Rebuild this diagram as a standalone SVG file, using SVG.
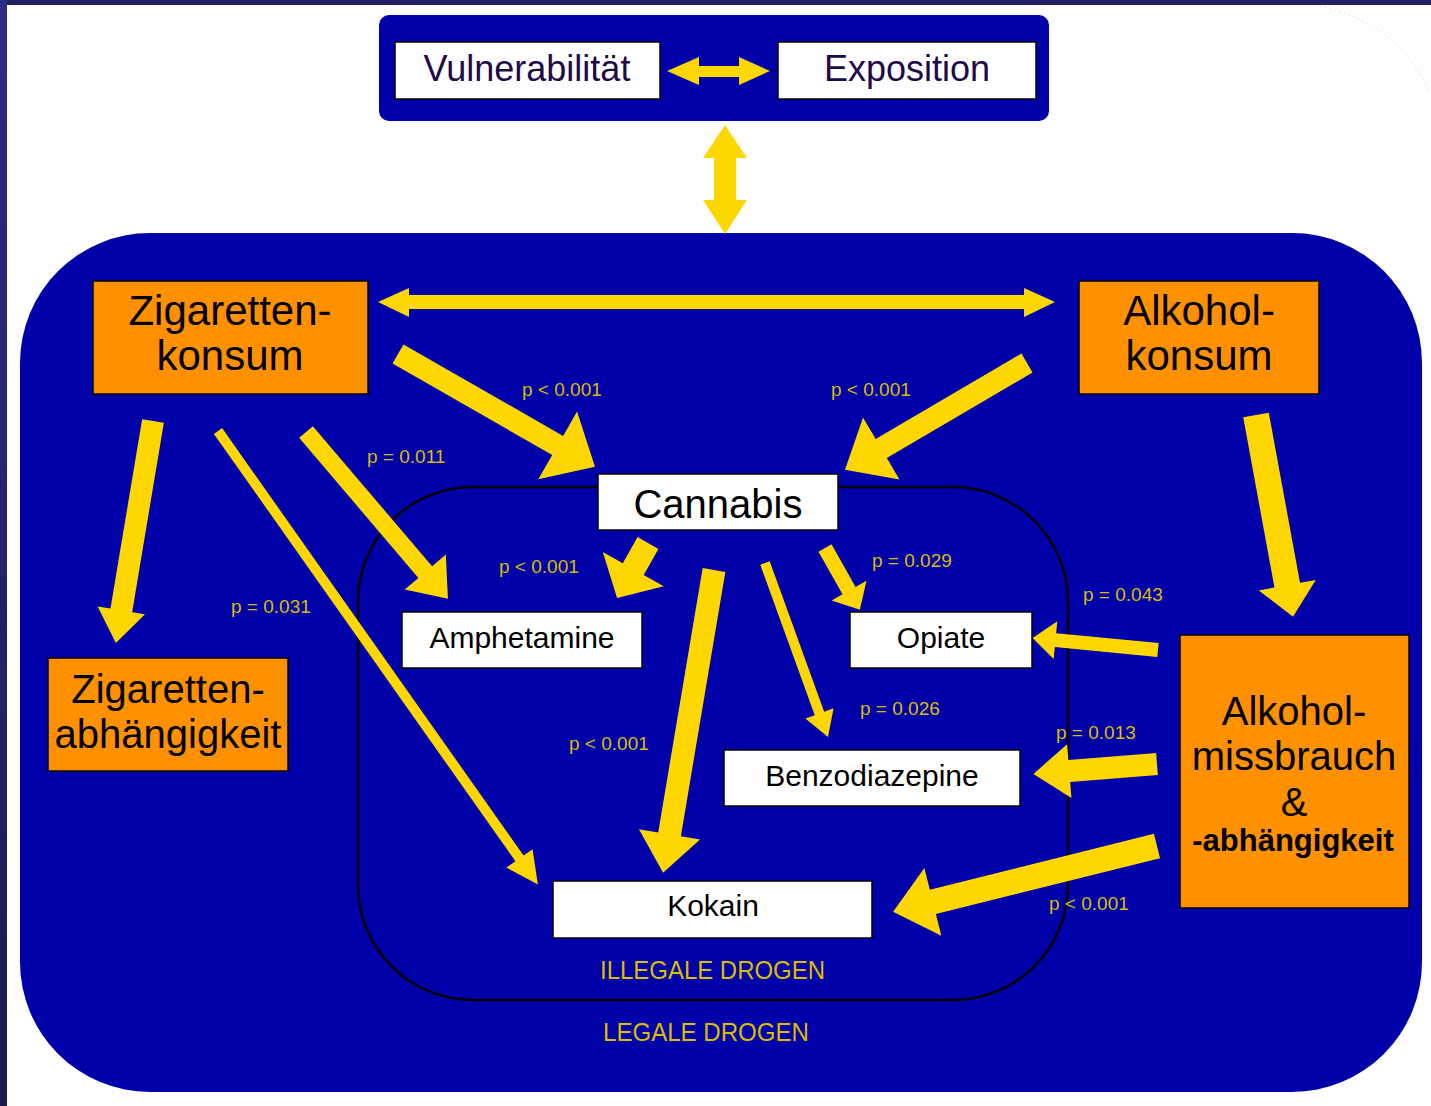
<svg xmlns="http://www.w3.org/2000/svg" width="1431" height="1106" viewBox="0 0 1431 1106">
<defs>
<linearGradient id="lg" x1="0" y1="0" x2="0" y2="1">
<stop offset="0" stop-color="#2c2c88"/>
<stop offset="1" stop-color="#1b1b4e"/>
</linearGradient>
<style>
.blue{fill:#0000A8}
.org{fill:#FF9000;stroke:#000;stroke-width:1.5}
.wht{fill:#fff;stroke:#000;stroke-width:1.5}
.ar{fill:#FFD700}
.t{font-family:"Liberation Sans",Arial,sans-serif;fill:#000;text-anchor:middle}
.p{font-family:"Liberation Sans",Arial,sans-serif;fill:#DCBC00;font-size:19px}
.cap{font-family:"Liberation Sans",Arial,sans-serif;fill:#DCBC00;font-size:25px}
</style>
</defs>
<rect x="0" y="0" width="1431" height="1106" fill="#fff"/>
<rect x="0" y="0" width="1431" height="5" fill="#1f1f62"/>
<rect x="0" y="0" width="7" height="1106" fill="url(#lg)"/>
<path d="M1320,6 Q1400,25 1428,90" fill="none" stroke="#c8c8ee" stroke-width="1" stroke-dasharray="1 4"/>

<g id="top-frame"><rect class="blue" x="379" y="15" width="670" height="106" rx="10"/></g>
<g id="main-frame"><rect class="blue" x="20" y="233" width="1402" height="859" rx="130"/></g>
<g id="illegal-frame"><rect x="358" y="487" width="710" height="513" rx="115" fill="none" stroke="#000" stroke-width="2.5"/></g>

<g id="connectors">
<polygon class="ar" points="667,71 699,57 699,66 739,66 739,57 770,71 739,85 739,77 699,77 699,85"/>
<polygon class="ar" points="725,125 747,158 736,158 736,200 747,200 725,234 703,200 714,200 714,158 703,158"/>
<polygon class="ar" points="378,302 409,288 409,295 1024,295 1024,288 1055,302 1024,317 1024,309 409,309 409,317"/>
<polygon class="ar" transform="translate(398,354) rotate(29.8)" points="0,-11 184,-11 184,-39 227,0 184,39 184,11 0,11"/>
<polygon class="ar" transform="translate(1027,363) rotate(149.6)" points="0,-11 169,-11 169,-36 211,0 169,36 169,11 0,11"/>
<polygon class="ar" transform="translate(153,421) rotate(99.5)" points="0,-11 192,-11 192,-24 225,0 192,24 192,11 0,11"/>
<polygon class="ar" transform="translate(218,431) rotate(54.8)" points="0,-5 523,-5 523,-16 555,0 523,16 523,5 0,5"/>
<polygon class="ar" transform="translate(306,432) rotate(49.6)" points="0,-9 184,-9 184,-27 219,0 184,27 184,9 0,9"/>
<polygon class="ar" transform="translate(648,543) rotate(119.4)" points="0,-12 30,-12 30,-35 63,0 30,35 30,12 0,12"/>
<polygon class="ar" transform="translate(714,570) rotate(99.55)" points="0,-11.5 268,-11.5 268,-31 307,0 268,31 268,11.5 0,11.5"/>
<polygon class="ar" transform="translate(765,563) rotate(70.1)" points="0,-5 160,-5 160,-15 185,0 160,15 160,5 0,5"/>
<polygon class="ar" transform="translate(825,548) rotate(60.6)" points="0,-7.5 49,-7.5 49,-20 71,0 49,20 49,7.5 0,7.5"/>
<polygon class="ar" transform="translate(1256,415) rotate(79.6)" points="0,-13 173,-13 173,-29 205,0 173,29 173,13 0,13"/>
<polygon class="ar" transform="translate(1158,650) rotate(185.5)" points="0,-7 103,-7 103,-19 126,0 103,19 103,7 0,7"/>
<polygon class="ar" transform="translate(1157,764) rotate(175.4)" points="0,-11 88,-11 88,-27 124,0 88,27 88,11 0,11"/>
<polygon class="ar" transform="translate(1157,846) rotate(166)" points="0,-12.5 231,-12.5 231,-35 272,0 231,35 231,12.5 0,12.5"/>
</g>

<g id="vulnerabilitaet"><rect class="wht" x="395" y="42" width="265" height="57"/><text class="t" x="527" y="81" font-size="36" fill="#220a48" style="fill:#220a48">Vulnerabilität</text></g>
<g id="exposition"><rect class="wht" x="778" y="42" width="258" height="57"/><text class="t" x="907" y="81" font-size="36" style="fill:#220a48">Exposition</text></g>

<g id="zigarettenkonsum"><rect class="org" x="93" y="281" width="275" height="113"/><text class="t" x="230" y="325" font-size="42">Zigaretten-</text><text class="t" x="230" y="370" font-size="42">konsum</text></g>
<g id="alkoholkonsum"><rect class="org" x="1079" y="281" width="240" height="113"/><text class="t" x="1199" y="325" font-size="42">Alkohol-</text><text class="t" x="1199" y="370" font-size="42">konsum</text></g>
<g id="zigarettenabhaengigkeit"><rect class="org" x="48" y="658" width="240" height="113"/><text class="t" x="168" y="703" font-size="40">Zigaretten-</text><text class="t" x="168" y="748" font-size="40">abhängigkeit</text></g>
<g id="alkoholmissbrauch"><rect class="org" x="1180" y="635" width="229" height="273"/><text class="t" x="1294" y="725" font-size="40">Alkohol-</text><text class="t" x="1294" y="770" font-size="40">missbrauch</text><text class="t" x="1294" y="816" font-size="40">&amp;</text><text class="t" x="1293" y="851" font-size="31" font-weight="bold">-abhängigkeit</text></g>

<g id="cannabis"><rect class="wht" x="598" y="474" width="240" height="56"/><text class="t" x="718" y="518" font-size="40">Cannabis</text></g>
<g id="amphetamine"><rect class="wht" x="402" y="612" width="240" height="56"/><text class="t" x="522" y="648" font-size="30">Amphetamine</text></g>
<g id="opiate"><rect class="wht" x="850" y="612" width="182" height="56"/><text class="t" x="941" y="648" font-size="30">Opiate</text></g>
<g id="benzodiazepine"><rect class="wht" x="724" y="750" width="296" height="56"/><text class="t" x="872" y="786" font-size="30">Benzodiazepine</text></g>
<g id="kokain"><rect class="wht" x="553" y="881" width="319" height="57"/><text class="t" x="713" y="916" font-size="30">Kokain</text></g>

<g id="labels">
<text class="p" x="522" y="396">p &lt; 0.001</text>
<text class="p" x="831" y="396">p &lt; 0.001</text>
<text class="p" x="367" y="463">p = 0.011</text>
<text class="p" x="499" y="573">p &lt; 0.001</text>
<text class="p" x="872" y="567">p = 0.029</text>
<text class="p" x="1083" y="601">p = 0.043</text>
<text class="p" x="231" y="613">p = 0.031</text>
<text class="p" x="860" y="715">p = 0.026</text>
<text class="p" x="1056" y="739">p = 0.013</text>
<text class="p" x="569" y="750">p &lt; 0.001</text>
<text class="p" x="1049" y="910">p &lt; 0.001</text>
<text class="cap" x="600" y="979" textLength="225" lengthAdjust="spacingAndGlyphs">ILLEGALE DROGEN</text>
<text class="cap" x="603" y="1041" textLength="206" lengthAdjust="spacingAndGlyphs">LEGALE DROGEN</text>
</g>
</svg>
